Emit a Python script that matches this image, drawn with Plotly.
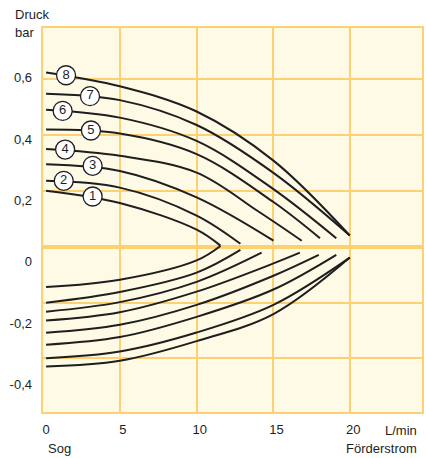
import plotly.graph_objects as go

# ---- data (Druck in bar vs. Förderstrom in L/min) ----
# upper family (pressure side), curves 1..8
k1_x = [0.2, 5.0, 10.0, 11.55]
k1_y = [0.232, 0.192, 0.105, 0.053]
k2_x = [0.2, 5.0, 10.0, 12.85]
k2_y = [0.264, 0.242, 0.151, 0.059]
k3_x = [0.2, 5.0, 10.0, 15.0]
k3_y = [0.318, 0.296, 0.210, 0.069]
k4_x = [0.2, 5.0, 10.0, 14.0, 16.84]
k4_y = [0.368, 0.346, 0.291, 0.165, 0.069]
k5_x = [0.2, 5.0, 10.0, 15.0, 18.03]
k5_y = [0.431, 0.418, 0.351, 0.195, 0.077]
k6_x = [0.2, 5.0, 10.0, 15.0, 19.09]
k6_y = [0.496, 0.470, 0.394, 0.237, 0.077]
k7_x = [0.2, 5.0, 10.0, 15.0, 19.97]
k7_y = [0.548, 0.527, 0.446, 0.290, 0.086]
k8_x = [0.2, 5.0, 10.0, 15.0, 19.97]
k8_y = [0.617, 0.572, 0.490, 0.330, 0.086]

# lower family (suction side), top to bottom
s1_x = [0.2, 5.0, 10.0, 11.55]
s1_y = [-0.082, -0.058, 0.005, 0.052]
s2_x = [0.2, 5.0, 10.0, 12.85]
s2_y = [-0.133, -0.098, -0.035, 0.039]
s3_x = [0.2, 5.0, 10.0, 14.23]
s3_y = [-0.162, -0.131, -0.065, 0.030]
s4_x = [0.2, 5.0, 10.0, 15.0, 16.72]
s4_y = [-0.191, -0.164, -0.097, -0.005, 0.030]
s5_x = [0.2, 5.0, 10.0, 15.0, 17.95]
s5_y = [-0.231, -0.205, -0.140, -0.045, 0.023]
s6_x = [0.2, 5.0, 10.0, 15.0, 19.09]
s6_y = [-0.270, -0.245, -0.179, -0.090, 0.023]
s7_x = [0.2, 5.0, 10.0, 15.0, 19.97]
s7_y = [-0.314, -0.292, -0.230, -0.140, 0.014]
s8_x = [0.2, 5.0, 10.0, 15.0, 19.97]
s8_y = [-0.341, -0.322, -0.258, -0.170, 0.014]

# curve number labels
label_text = ["1", "2", "3", "4", "5", "6", "7", "8"]
label_x = [3.23, 1.35, 3.23, 1.44, 3.12, 1.28, 3.06, 1.50]
label_y = [0.213, 0.264, 0.313, 0.366, 0.428, 0.492, 0.540, 0.608]

# axis ticks
x_ticks = [0, 5, 10, 15, 20]
x_ticktext = ["0", "5", "10", "15", "20"]
y_ticks = [0.6, 0.4, 0.2, 0.0, -0.2, -0.4]
y_ticktext = ["0,6", "0,4", "0,2", "0", "-0,2", "-0,4"]

GRID = "#fdd072"
BG = "#fefae6"
INK = "#1e1e1e"
FONT = "Liberation Sans, Arial, sans-serif"

fig = go.Figure()

# invisible trace to hold the grid axis
fig.add_trace(go.Scatter(x=[0], y=[0], mode="markers", marker=dict(opacity=0),
                         hoverinfo="skip", xaxis="x", yaxis="y"))

curves = [(k1_x, k1_y), (k2_x, k2_y), (k3_x, k3_y), (k4_x, k4_y),
          (k5_x, k5_y), (k6_x, k6_y), (k7_x, k7_y), (k8_x, k8_y),
          (s1_x, s1_y), (s2_x, s2_y), (s3_x, s3_y), (s4_x, s4_y),
          (s5_x, s5_y), (s6_x, s6_y), (s7_x, s7_y), (s8_x, s8_y)]
for cx, cy in curves:
    fig.add_trace(go.Scatter(x=cx, y=cy, mode="lines", yaxis="y2",
                             line=dict(color=INK, width=2, shape="spline", smoothing=1.0),
                             hoverinfo="skip"))

fig.add_trace(go.Scatter(x=label_x, y=label_y, mode="markers+text", yaxis="y2",
                         text=label_text, textposition="middle center",
                         textfont=dict(family=FONT, size=13, color=INK),
                         marker=dict(symbol="circle", size=19, color="white",
                                     line=dict(color=INK, width=1.3)),
                         hoverinfo="skip"))

fig.update_layout(
    width=426, height=458,
    margin=dict(l=43, r=2, t=28, b=46),
    paper_bgcolor="white", plot_bgcolor=BG,
    showlegend=False,
    font=dict(family=FONT, size=13, color=INK),
    xaxis=dict(range=[0, 24.67], tickvals=x_ticks, ticktext=x_ticktext,
               showgrid=True, gridcolor=GRID, gridwidth=2, zeroline=False,
               showline=True, linecolor=GRID, linewidth=2, mirror=True,
               ticks="", ticklabelshift=3, ticklabelstandoff=4,
               tickfont=dict(family=FONT, size=13, color=INK)),
    yaxis=dict(range=[-2.96, 3.92], dtick=1, tick0=0, showgrid=True,
               gridcolor=GRID, gridwidth=2, zeroline=True, zerolinecolor=GRID,
               zerolinewidth=4, showticklabels=False, ticks="",
               showline=True, linecolor=GRID, linewidth=2, mirror=True),
    yaxis2=dict(overlaying="y", side="left", range=[-0.489, 0.762],
                tickvals=y_ticks, ticktext=y_ticktext, showgrid=False,
                zeroline=False, ticks="", ticklabelstandoff=10,
                tickfont=dict(family=FONT, size=13, color=INK)),
)

ann = dict(xref="paper", yref="paper", showarrow=False,
           font=dict(family=FONT, size=13, color=INK))
fig.add_annotation(text="Druck", x=-0.0787, y=1.034, xanchor="left", yanchor="middle", **ann)
fig.add_annotation(text="bar", x=-0.0787, y=0.987, xanchor="left", yanchor="middle", **ann)
fig.add_annotation(text="L/min", x=0.992, y=-0.047, xanchor="right", yanchor="middle", **ann)
fig.add_annotation(text="Sog", x=0.008, y=-0.094, xanchor="left", yanchor="middle", **ann)
fig.add_annotation(text="Förderstrom", x=0.992, y=-0.094, xanchor="right", yanchor="middle", **ann)

fig.write_html("out.html", config={"displayModeBar": False},
               post_script="document.body.style.margin='0';")
